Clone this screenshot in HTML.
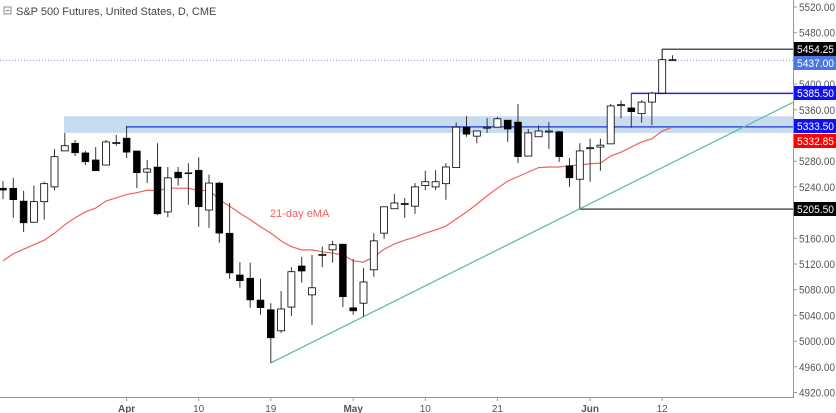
<!DOCTYPE html>
<html><head><meta charset="utf-8">
<style>
html,body{margin:0;padding:0;background:#fff;}
svg{display:block;font-family:"Liberation Sans",sans-serif;}
</style></head>
<body>
<svg id="chart" width="836" height="413" viewBox="0 0 836 413" xmlns="http://www.w3.org/2000/svg"></svg>
<script>
const opens  = [5238,5238,5218,5185,5217,5240,5296,5308,5293,5282,5274,5308,5316,5296,5263,5271,5201,5263,5262,5266,5204,5246,5168,5103,5098,5064,5049,5016,5053,5117,5072,5134,5142,5151,5052,5059,5111,5168,5206,5213,5210,5242,5240,5245,5270,5333,5319,5332,5333,5344,5341,5288,5318,5326,5326,5273,5252,5300,5302,5307,5367,5363,5354,5372,5386,5437];
const highs  = [5249,5254,5234,5242,5248,5299,5324,5313,5296,5302,5313,5321,5335,5296,5282,5308,5271,5271,5277,5286,5259,5248,5215,5123,5122,5097,5059,5078,5115,5131,5134,5147,5156,5151,5128,5114,5168,5209,5229,5223,5246,5265,5266,5277,5340,5350,5327,5347,5349,5344,5369,5330,5336,5341,5327,5285,5308,5315,5315,5369,5374,5386,5375,5388,5455,5445];
const lows   = [5221,5192,5170,5184,5189,5235,5296,5288,5274,5265,5274,5304,5285,5238,5246,5196,5193,5242,5212,5178,5176,5153,5097,5083,5052,5041,4966,5013,5039,5091,5025,5115,5122,5053,5041,5038,5100,5159,5206,5192,5198,5235,5235,5220,5270,5318,5308,5324,5333,5310,5277,5288,5318,5299,5279,5240,5206,5248,5265,5307,5347,5332,5340,5336,5386,5437];
const closes = [5235,5220,5184,5217,5245,5287,5304,5293,5279,5265,5310,5309,5294,5262,5268,5198,5254,5254,5261,5209,5246,5168,5106,5094,5064,5052,5005,5050,5108,5109,5083,5135,5150,5069,5047,5092,5156,5209,5215,5214,5240,5248,5248,5271,5333,5322,5327,5333,5346,5330,5287,5324,5327,5327,5287,5254,5296,5301,5305,5366,5368,5357,5372,5386,5438,5438];
const ema21  = [5125,5136,5143,5150,5157,5168,5181,5192,5201,5207,5218,5223,5228,5231,5235,5234,5238,5238,5238,5234,5235,5220,5210,5199,5189,5178,5168,5156,5147,5142,5142,5139,5137,5134,5125,5123,5131,5143,5151,5157,5162,5168,5173,5179,5190,5201,5213,5226,5238,5249,5256,5263,5270,5271,5271,5273,5274,5276,5277,5288,5294,5302,5310,5315,5327,5333];
const yTicks = [5520,5480,5440,5400,5360,5320,5280,5240,5200,5160,5120,5080,5040,5000,4960,4920];
const xTickLabels = ["Apr","10","19","May","10","21","Jun","12"];
const xTickIndex  = [12,19,26,34,41,48,57,64];
const levelValues = [5454.25,5437.00,5385.50,5333.50,5332.85,5205.50];
const zoneRange = [5324,5350];
const trendIdx = [26,56];

const svg = document.getElementById('chart');
const NS = 'http://www.w3.org/2000/svg';
const AX = 793;
function yS(p){return 7 + (5520 - p)*0.6425;}
function xS(i){return 3 + i*10.3;}
function mk(tag, attrs, parent){
  const e = document.createElementNS(NS, tag);
  for (const k in attrs) e.setAttribute(k, attrs[k]);
  (parent||svg).appendChild(e);
  return e;
}

let z = mk('rect',{x:64,y:yS(zoneRange[1]),width:AX-64,height:yS(zoneRange[0])-yS(zoneRange[1]),fill:'#c7dcf1'});



let dl = mk('line',{x1:0,x2:AX,y1:yS(levelValues[1]),y2:yS(levelValues[1]),stroke:'#7f9ee8','stroke-dasharray':'1,2','stroke-width':1});



function level(x1, v, color, name){
  const l = mk('polyline',{points:`${x1},${yS(v)} ${AX},${yS(v)}`,fill:'none',stroke:color,'stroke-width':1.5});
  
  
}
level(xS(12), levelValues[3], '#3b4fe0', 'resistance-line-5333');
level(xS(61), levelValues[2], '#2222ee', 'resistance-line-5385');
level(xS(64), levelValues[0], '#555', 'high-line-5454');
level(xS(56), levelValues[5], '#555', 'low-line-5205');
mk('line',{x1:xS(64),x2:xS(64),y1:yS(levelValues[0]),y2:yS(5438),stroke:'#555'});

const tx1 = xS(trendIdx[0]), ty1 = yS(lows[trendIdx[0]]);
const tx2 = xS(trendIdx[1]), ty2 = yS(lows[trendIdx[1]]);
const slope = (ty2-ty1)/(tx2-tx1);
let tl = mk('line',{x1:tx1,y1:ty1,x2:AX,y2:ty1+slope*(AX-tx1),stroke:'#5fb9a0','stroke-width':1.2});



let pts = ema21.map((v,i)=>`${xS(i)},${yS(v)}`).join(' ');
let em = mk('polyline',{points:pts,fill:'none',stroke:'#f0625f','stroke-width':1.2});


let et = mk('text',{x:270,y:217,fill:'#f0625f','font-size':11});
et.textContent='21-day eMA';



for (let i=0;i<opens.length;i++){
  const g = mk('g',{});
  
  
  const x = xS(i);
  mk('line',{x1:x,x2:x,y1:yS(highs[i]),y2:yS(lows[i]),stroke:'#333','stroke-width':1},g);
  const top = yS(Math.max(opens[i],closes[i])), bot = yS(Math.min(opens[i],closes[i]));
  const bear = closes[i] < opens[i];
  mk('rect',{x:x-3.5,y:top,width:7,height:Math.max(1,bot-top),fill:bear?'#000':'#fff',stroke:'#000','stroke-width':bear?0.5:0.8},g);
}

mk('line',{x1:AX+0.5,x2:AX+0.5,y1:0,y2:398,stroke:'#999'});
mk('line',{x1:0,x2:AX,y1:397.5,y2:397.5,stroke:'#999'});
const hidden = [5440,5320,5200];
yTicks.forEach(v=>{
  if (hidden.includes(v)) return;
  mk('line',{x1:AX,x2:AX+4,y1:yS(v),y2:yS(v),stroke:'#999'});
  const t = mk('text',{x:799,y:yS(v)+4,fill:'#555','font-size':11,textLength:36,lengthAdjust:'spacingAndGlyphs'});
  t.textContent = v.toFixed(2);
  
  
});
xTickIndex.forEach((idx,k)=>{
  const x = xS(idx);
  mk('line',{x1:x,x2:x,y1:397,y2:401,stroke:'#999'});
  const t = mk('text',{x:x,y:412,fill:'#555','font-size':10,'text-anchor':'middle','font-weight':/^[A-Z]/.test(xTickLabels[k])?'bold':'normal'});
  t.textContent = xTickLabels[k];
  
  
});

const labelColors = ['#000','#4a76e6','#1010ee','#1010ee','#ff0000','#000'];
const labelCenters = [49,63,93,126,141,209];
levelValues.forEach((v,k)=>{
  const cy = labelCenters[k];
  const g = mk('g',{});
  
  
  mk('rect',{x:794,y:cy-7,width:42,height:14,fill:labelColors[k]},g);
  const t = mk('text',{x:797,y:cy+4,fill:'#fff','font-size':11,textLength:37,lengthAdjust:'spacingAndGlyphs'},g);
  t.textContent = v.toFixed(2);
});

const ic = mk('rect',{x:4,y:7,width:7,height:7,fill:'none',stroke:'#888'});


mk('line',{x1:5.5,x2:9.5,y1:10.5,y2:10.5,stroke:'#888'});
const tt = mk('text',{x:16,y:15,fill:'#444','font-size':11});
tt.textContent = 'S&P 500 Futures, United States, D, CME';


</script>
</body></html>
